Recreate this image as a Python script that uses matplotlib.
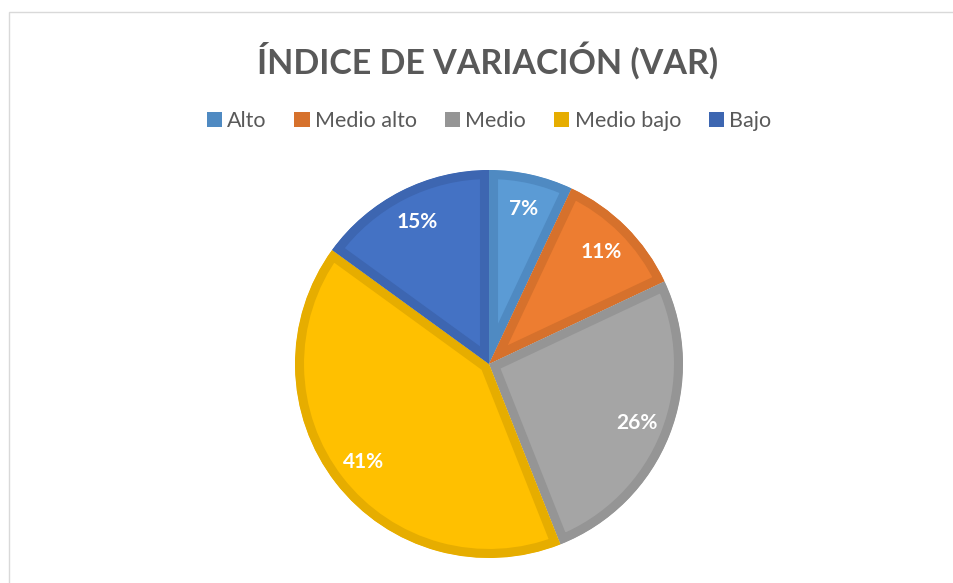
import matplotlib.pyplot as plt
from matplotlib.patches import Patch, Rectangle

categorias = ["Alto", "Medio alto", "Medio", "Medio bajo", "Bajo"]
porcentajes = [7, 11, 26, 41, 15]
relleno = ["#5B9BD5", "#ED7D31", "#A5A5A5", "#FFC000", "#4472C4"]
borde = ["#4F8AC2", "#D6712C", "#959595", "#E6AD00", "#3D66B1"]

plt.rcParams["font.family"] = ["Lato", "DejaVu Sans"]

fig = plt.figure(figsize=(9.54, 5.83), dpi=100)

# marco gris del area del grafico
fig.patches.append(Rectangle((9.5 / 954, -0.1), 1.2, 1.1 - 12.5 / 583,
                             transform=fig.transFigure, fill=False,
                             edgecolor="#D9D9D9", linewidth=1.0))

cx, cy, r = 489, 364, 194
ax = fig.add_axes([(cx - r) / 954, (583 - cy - r) / 583, 2 * r / 954, 2 * r / 583])

wedges, textos, autotextos = ax.pie(
    porcentajes,
    colors=relleno,
    startangle=90,
    counterclock=False,
    autopct="%1.0f%%",
    pctdistance=0.82,
    wedgeprops=dict(linewidth=13, joinstyle="miter"),
    textprops=dict(color="white", fontsize=15, fontweight="bold"),
)
# borde solo hacia dentro de cada porcion
for w, c in zip(wedges, borde):
    w.set_edgecolor(c)
    w.set_clip_on(True)
    w.set_clip_path(w)

ax.set_xlim(-1, 1)
ax.set_ylim(-1, 1)
ax.set_aspect("equal")
ax.axis("off")

fig.text(488 / 954, 1 - 61 / 583, "ÍNDICE DE VARIACIÓN (VAR)", ha="center", va="center",
         fontsize=24.5, fontweight="bold", color="#595959")

handles = [Patch(facecolor=c, edgecolor="none") for c in borde]
fig.legend(handles, categorias, loc="center", bbox_to_anchor=(489 / 954, 1 - 121 / 583),
           ncol=5, frameon=False, fontsize=15.5, labelcolor="#595959",
           handlelength=0.7, handleheight=0.7, handletextpad=0.25,
           columnspacing=1.3)

fig.savefig("out.png", dpi=100)
